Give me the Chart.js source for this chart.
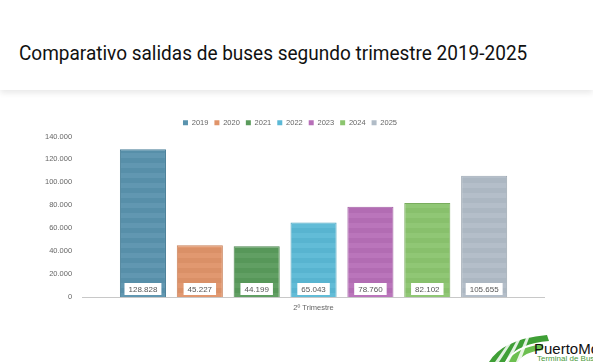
<!DOCTYPE html>
<html><head><meta charset="utf-8">
<script src="https://cdn.jsdelivr.net/npm/chart.js@4/dist/chart.umd.min.js"></script>
<style>
html,body{margin:0;padding:0;background:#fff;width:593px;height:362px;overflow:hidden;font-family:"Liberation Sans",Arial,sans-serif;}
#hdr{position:absolute;left:0;top:0;width:593px;height:90px;background:#fff;box-shadow:0 3px 6px rgba(0,0,0,0.09);}
#title{position:absolute;left:19px;top:41px;font-family:Roboto,"Liberation Sans",sans-serif;font-size:20px;color:#111;white-space:nowrap;transform:scaleX(0.95);transform-origin:0 0;}
#wrap{position:absolute;left:35px;top:113px;width:510px;height:205px;}
#logo{position:absolute;left:485px;top:330px;width:108px;height:32px;overflow:hidden;}
#logo .p{position:absolute;left:49px;top:10px;font-family:"Liberation Sans",Arial,sans-serif;font-size:15px;color:#111;white-space:nowrap;}
#logo .t{position:absolute;left:52px;top:24px;font-size:8px;color:#4a9a3a;white-space:nowrap;}
</style></head><body>
<div id="hdr"><div id="title">Comparativo salidas de buses segundo trimestre 2019-2025</div></div>
<div id="wrap"><canvas id="c"></canvas></div>
<div id="logo">
<svg width="108" height="32" style="position:absolute;left:0;top:0">
<path d="M4 32 Q18 9 62 5 L64 11 Q30 14 20 32 Z" fill="#3f9f36"/>
<path d="M22 32 Q30 18 58 14 L58 20 Q38 22 33 32 Z" fill="#6cbf4f"/>
<path d="M10 32 L24 12 L27 12 L14 32 Z M20 32 L32 10 L35 10 L24 32 Z M31 32 L41 8 L44 8 L35 32 Z" fill="#fff" opacity="0.85"/>
</svg>
<div class="p">PuertoMontt</div><div class="t">Terminal de Buses</div>
</div>
<script>
const categories = ["2º Trimestre"];
const years = ["2019","2020","2021","2022","2023","2024","2025"];
const values = [128828, 45227, 44199, 65043, 78760, 82102, 105655];
const yTicks = [0,20000,40000,60000,80000,100000,120000,140000];
const fills = ["#5a93ae","#e0946a","#5a9b5c","#5bb9d6","#b76fb8","#8cc56f","#b1bcc7"];
const borders = ["#4a7f98","#c98058","#4a864c","#4aa3be","#a15ca2","#79ad5e","#9ca7b2"];

function fmt(v){return v.toString().replace(/\B(?=(\d{3})+(?!\d))/g,".");}
function stripes(col){
  const c=document.createElement('canvas');c.width=8;c.height=10;
  const x=c.getContext('2d');x.fillStyle=col;x.fillRect(0,0,8,10);
  x.fillStyle='rgba(255,255,255,0.045)';x.fillRect(0,0,8,5);
  x.fillStyle='rgba(0,0,0,0.025)';x.fillRect(0,5,8,5);
  return x.createPattern(c,'repeat');
}
const labelPlugin={id:'lbl',afterDatasetsDraw(chart){
  const ctx=chart.ctx;ctx.save();
  ctx.font='8px "Liberation Sans",Arial,sans-serif';ctx.textAlign='center';ctx.textBaseline='middle';
  chart.data.datasets.forEach((ds,i)=>{
    const m=chart.getDatasetMeta(i);m.data.forEach((el,j)=>{
      const t=fmt(ds.data[j]);const w=ctx.measureText(t).width+8;
      const y=el.base-8;
      ctx.fillStyle='#fff';ctx.fillRect(el.x-w/2,y-6,w,12);
      ctx.fillStyle='#555';ctx.fillText(t,el.x,y+0.5);
    });
  });
  ctx.restore();
}};
new Chart(document.getElementById('c'),{
  type:'bar',
  data:{labels:categories,datasets:years.map((y,i)=>({label:y,data:[values[i]],backgroundColor:stripes(fills[i]),borderColor:borders[i],borderWidth:1,categoryPercentage:0.86,barPercentage:0.81}))},
  options:{responsive:true,maintainAspectRatio:false,animation:false,
    layout:{padding:{left:0,right:0,top:0,bottom:0}},
    plugins:{legend:{position:'top',labels:{boxWidth:5,boxHeight:5,font:{size:7.5},color:'#666',padding:6,
      generateLabels(chart){return chart.data.datasets.map((d,i)=>({text:d.label,fillStyle:fills[i],strokeStyle:fills[i],lineWidth:0,datasetIndex:i,fontColor:'#666'}));}}},
      tooltip:{enabled:false}},
    scales:{
      x:{grid:{display:false,drawTicks:false},border:{color:'#c8c8c8'},ticks:{color:'#666',font:{size:7.5},padding:6}},
      y:{min:0,max:140000,afterBuildTicks(a){a.ticks=yTicks.map(v=>({value:v}));},grid:{display:false,drawTicks:false},border:{display:false},
         ticks:{color:'#666',font:{size:7.5},padding:10,callback:v=>fmt(v)}}
    }
  },
  plugins:[labelPlugin]
});
</script></body></html>
